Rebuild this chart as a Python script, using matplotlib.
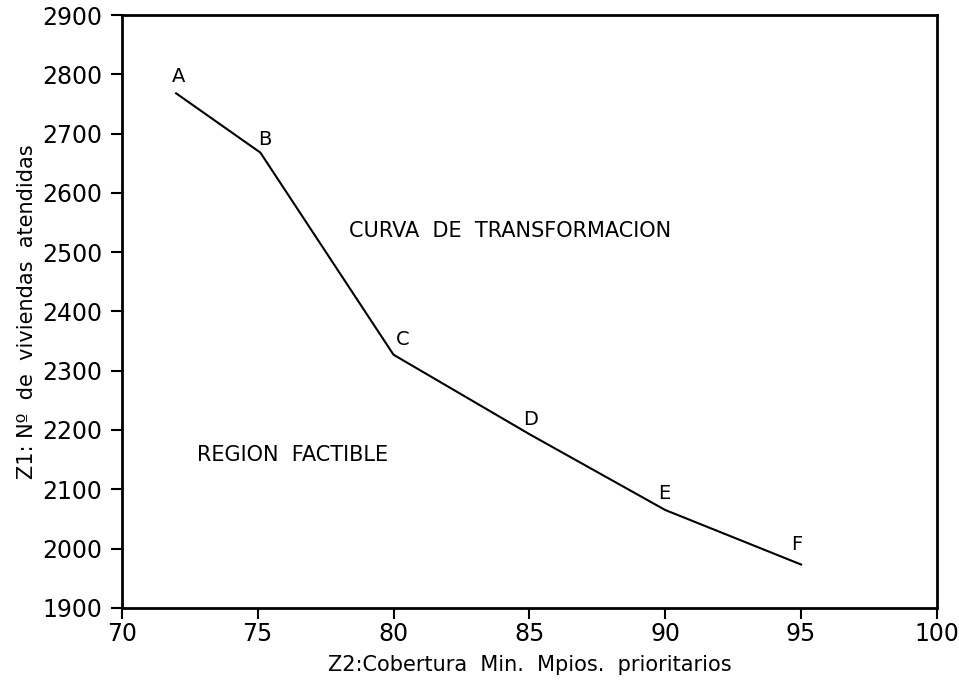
import matplotlib
matplotlib.use("Agg")
import matplotlib.pyplot as plt

# Curva de transformacion (puntos extremos A-F)
labels = ["A", "B", "C", "D", "E", "F"]
cobertura = [72.0, 75.1, 80.0, 85.0, 90.0, 95.0]
viviendas = [2768, 2668, 2327, 2193, 2065, 1973]

# posicion de las letras junto a cada punto
label_x = [72.1, 75.25, 80.35, 85.05, 89.95, 94.85]
label_y = [2797, 2690, 2352, 2218, 2093, 2007]

x_ticks = [70, 75, 80, 85, 90, 95, 100]
y_ticks = [1900, 2000, 2100, 2200, 2300, 2400, 2500, 2600, 2700, 2800, 2900]

plt.rcParams['font.family'] = ['DejaVu Sans']

fig = plt.figure(figsize=(9.59, 6.86), dpi=100)
ax = fig.add_axes([0.127, 0.114, 0.850, 0.864])

ax.plot(cobertura, viviendas, color="black", lw=1.5)

for lab, lx, ly in zip(labels, label_x, label_y):
    ax.text(lx, ly, lab, fontsize=14, ha="center", va="center")

ax.text(84.3, 2535, "CURVA  DE  TRANSFORMACION", fontsize=15, ha="center", va="center")
ax.text(76.3, 2157, "REGION  FACTIBLE", fontsize=15, ha="center", va="center")

ax.set_xlim(70, 100)
ax.set_ylim(1900, 2900)
ax.set_xticks(x_ticks)
ax.set_yticks(y_ticks)
ax.tick_params(direction="out", length=8, width=1.5, labelsize=17, pad=2)
ax.tick_params(axis="y", pad=6)

for s in ax.spines.values():
    s.set_linewidth(2)

ax.set_xlabel("Z2:Cobertura  Min.  Mpios.  prioritarios", fontsize=15, labelpad=7)
ax.set_ylabel("Z1: Nº  de  viviendas  atendidas", fontsize=15, labelpad=4)

fig.savefig("out.png", dpi=100)
